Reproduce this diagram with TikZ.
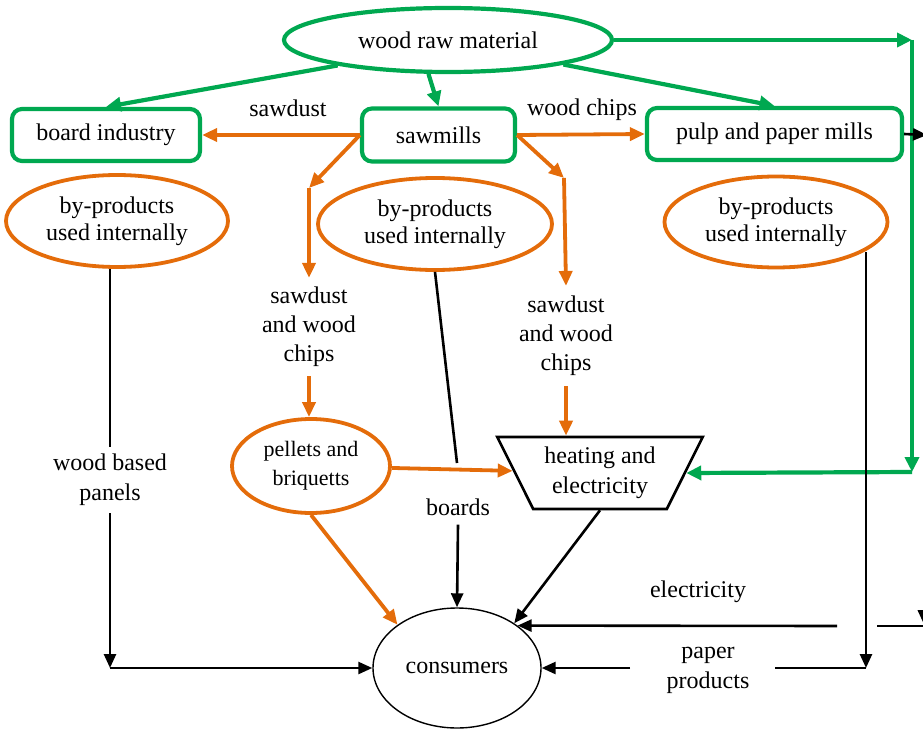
\documentclass[tikz,border=0pt]{standalone}
\usepackage{fontspec}
\setmainfont{Liberation Serif}
\usetikzlibrary{shapes.geometric,arrows.meta}
\definecolor{grn}{RGB}{0,168,80}
\definecolor{org}{RGB}{228,108,10}
\begin{document}
\begin{tikzpicture}[x=1pt,y=-1pt,
  font=\fontsize{24}{29}\selectfont,
  gbox/.style={draw=grn, line width=4.2pt, rounded corners=10pt, inner sep=0pt},
  gell/.style={ellipse, draw=grn, line width=4.2pt, inner sep=0pt},
  oell/.style={ellipse, draw=org, line width=3.8pt, align=center, inner sep=0pt},
  lbl/.style={align=center, inner sep=2pt},
  garr/.style={draw=grn, line width=4.2pt, -{Triangle[length=15pt,width=14pt]}},
  oarr/.style={draw=org, line width=3.8pt, -{Triangle[length=15pt,width=13pt]}},
  barr/.style={draw=black, line width=2.6pt, -{Triangle[length=14pt,width=12pt]}},
  bline/.style={draw=black, line width=2.6pt},
]
\useasboundingbox (0,0) rectangle (923,730);
\clip (0,0) rectangle (923,730);

% main nodes
\node[gell, minimum width=328pt, minimum height=64pt] (raw) at (448,40) {wood raw material};
\node[gbox, minimum width=188pt, minimum height=52pt] (board) at (106,135) {board industry};
\node[gbox, minimum width=153pt, minimum height=53pt] (saw) at (438.5,135) {sawmills};
\node[gbox, minimum width=255pt, minimum height=52pt] (pulp) at (774.5,134) {pulp and paper mills};

\node[oell, minimum width=222pt, minimum height=92pt, font=\fontsize{24}{27}\selectfont] (bp1) at (117,221) {by-products\\used internally};
\node[oell, minimum width=234pt, minimum height=92pt, font=\fontsize{24}{27}\selectfont] (bp2) at (435,224) {by-products\\used internally};
\node[oell, minimum width=223pt, minimum height=91pt, font=\fontsize{24}{27}\selectfont] (bp3) at (776,222) {by-products\\used internally};

\node[oell, minimum width=158pt, minimum height=94pt, font=\fontsize{22}{29}\selectfont] (pel) at (311,466) {pellets and\\briquetts};
\node[trapezium, draw, line width=2.6pt, trapezium left angle=60, trapezium right angle=60,
      shape border rotate=180, trapezium stretches=true, minimum width=206pt, minimum height=72pt,
      inner sep=0pt, align=center, font=\fontsize{24}{30}\selectfont] (heat) at (600,473) {heating and\\electricity};
\node[ellipse, draw, line width=1.4pt, minimum width=168pt, minimum height=120pt, inner sep=0pt] (cons) at (457,668) {consumers};

% labels
\node[lbl] (lsd) at (288,108) {sawdust};
\node[lbl] (lwc) at (582,110) {wood chips};
\node[lbl, inner sep=9pt] (sd1) at (309,327) {sawdust\\and wood\\chips};
\node[lbl, inner sep=10pt] (sd2) at (566,336) {sawdust\\and wood\\chips};
\node[lbl, inner sep=7pt, font=\fontsize{24}{30}\selectfont] (wbp) at (110,480) {wood based\\panels};
\node[lbl, inner sep=9pt] (boards) at (458,507) {boards};
\node[lbl] (elec) at (698,592) {electricity};
\node[lbl, font=\fontsize{24}{30}\selectfont] (paper) at (708,670) {paper\\products};

% coordinates
\coordinate (g1) at (912,40);
\coordinate (g2) at (912,472);
\coordinate (o1) at (309,188);
\coordinate (o2) at (564,178);
\coordinate (b1) at (457,463);
\coordinate (l1) at (110,668);
\coordinate (p0) at (866,252);
\coordinate (p1) at (866,668);
\coordinate (p2) at (775,668);
\coordinate (p3) at (630,668);
\coordinate (e1) at (923,626);
\coordinate (e2) at (877,626);
\coordinate (e3) at (837,626);
\coordinate (r1) at (927,135);
\coordinate (r2) at (923.8,135);
\coordinate (r3) at (923.8,624);

% green connectors
\draw[garr] (raw.193) -- (board.north);
\draw[garr] (raw.240) -- (saw.north);
\draw[garr] (raw.348) -- (pulp.north);
\draw[garr] (raw.east) -- (g1);
\draw[garr] (g1) -- (g2);
\draw[garr] (g2) -- (heat.0);

% orange connectors
\draw[oarr] (saw.west) -- (board.east);
\draw[oarr] (saw.east) -- (pulp.west);
\draw[oarr] (saw.west) -- (o1);
\draw[oarr] (o1) -- (sd1.north);
\draw[oarr] (saw.east) -- (o2);
\draw[oarr] (o2) -- (sd2.north);
\draw[oarr] (sd1.south) -- (sd1.south |- pel.north);
\draw[oarr] (sd2.south) -- (sd2.south |- heat.90);
\draw[oarr] (pel) -- (heat);
\draw[oarr] (pel.south) -- (cons.144);

% black connectors
\draw[barr] (pulp.east) -- (r1);
\draw[barr] (r2) -- (r3);
\draw[bline] (e1) -- (e2);
\draw[barr] (e3) -- (cons.35);
\draw[barr] (heat.270) -- (cons.38);
\draw[bline] (bp2.south) -- (b1);
\draw[barr] (boards.south) -- (cons.north);
\draw[bline] (bp1.south -| wbp.north) -- (wbp.north);
\draw[barr] (wbp.south) -- (l1);
\draw[barr] (l1) -- (cons.west);
\draw[barr] (p0) -- (p1);
\draw[bline] (p1) -- (p2);
\draw[barr] (p3) -- (cons.east);
\end{tikzpicture}
\end{document}
